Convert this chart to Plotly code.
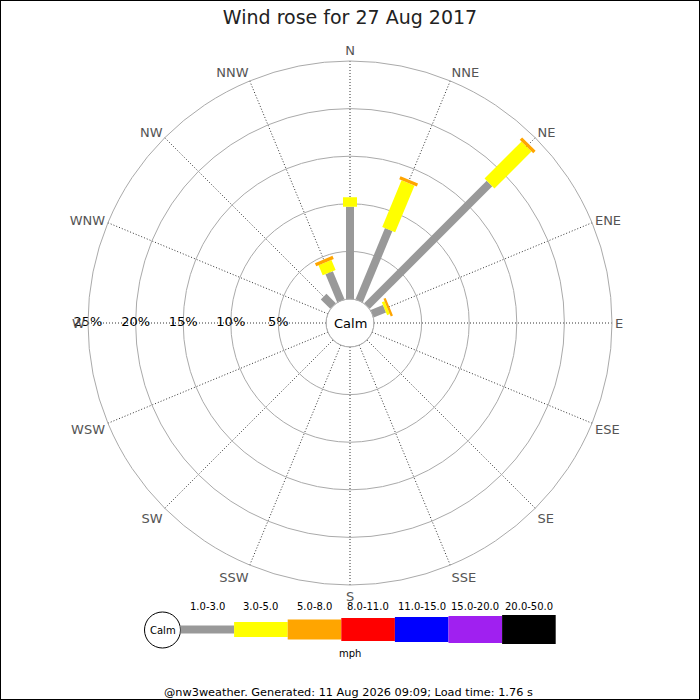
import plotly.graph_objects as go

# ---- data ----
directions = ["N", "NNE", "NE", "ENE", "E", "ESE", "SE", "SSE",
              "S", "SSW", "SW", "WSW", "W", "WNW", "NW", "NNW"]
dir_angles = [i * 22.5 for i in range(16)]
# percentage of time per direction, by speed band (mph)
pct_1_3 = [9.7, 8.1, 18.2, 1.4, 0, 0, 0, 0, 0, 0, 0, 0, 0, 0, 1.4, 3.2]
pct_3_5 = [1.0, 5.3, 5.5, 0.3, 0, 0, 0, 0, 0, 0, 0, 0, 0, 0, 0, 1.15]
pct_5_8 = [0, 0.35, 0.35, 0.25, 0, 0, 0, 0, 0, 0, 0, 0, 0, 0, 0, 0.35]
speed_bins = ["1.0-3.0", "3.0-5.0", "5.0-8.0", "8.0-11.0", "11.0-15.0", "15.0-20.0", "20.0-50.0"]
ring_ticks = [5, 10, 15, 20, 25]
ring_labels = ["5%", "10%", "15%", "20%", "25%"]

# ---- styles ----
bin_colors = ["#999999", "#ffff00", "#ffa500", "#ff0000", "#0000ff", "#a020f0", "#000000"]
rose_widths = [8, 14, 19]
legend_heights = [8, 15, 20, 23, 25, 27, 29]

W = H = 700
cx, cy, R, hole_px = 350, 323, 262, 24
rmax = 25

fig = go.Figure()

series = [pct_1_3, pct_3_5, pct_5_8]
base = [0.0] * 16
for k, vals in enumerate(series):
    for i, v in enumerate(vals):
        if v > 0:
            fig.add_trace(go.Scatterpolar(
                r=[base[i], base[i] + v], theta=[dir_angles[i], dir_angles[i]],
                mode="lines", line=dict(color=bin_colors[k], width=rose_widths[k]),
                showlegend=False, hoverinfo="skip"))
    base = [b + v for b, v in zip(base, vals)]

# ring labels along W spoke
fig.add_trace(go.Scatterpolar(
    r=ring_ticks, theta=[270] * len(ring_ticks), mode="text", text=ring_labels,
    textfont=dict(family="DejaVu Sans", size=13, color="#000"),
    showlegend=False, hoverinfo="skip", cliponaxis=False))

shapes = []
annotations = []

def px(x):
    return x / W

def py(y):
    return 1 - y / H

def note(x, y, text, size, color="#000"):
    annotations.append(dict(x=px(x), y=py(y), xref="paper", yref="paper", text=text,
                            showarrow=False, xanchor="center", yanchor="middle",
                            font=dict(family="DejaVu Sans", size=size, color=color)))

# calm circle
shapes.append(dict(type="circle", xref="paper", yref="paper",
                   x0=px(cx - hole_px), x1=px(cx + hole_px), y0=py(cy + hole_px), y1=py(cy - hole_px),
                   line=dict(color="#aaaaaa", width=1), fillcolor="white", layer="below"))
note(cx, cy, "Calm", 13)

# legend
lx0, seg_w, ly = 180.5, 53.6, 629.5
shapes.append(dict(type="circle", xref="paper", yref="paper",
                   x0=px(144.5), x1=px(180.5), y0=py(648), y1=py(612),
                   line=dict(color="#000", width=1), fillcolor="white"))
note(162.5, 630, "Calm", 10)
for i, (lab, col, h) in enumerate(zip(speed_bins, bin_colors, legend_heights)):
    x0 = lx0 + i * seg_w
    shapes.append(dict(type="rect", xref="paper", yref="paper",
                       x0=px(x0), x1=px(x0 + seg_w), y0=py(ly + h / 2), y1=py(ly - h / 2),
                       line=dict(width=0), fillcolor=col))
    note(x0 + seg_w / 2, 606.5, lab, 10)
note(350.5, 653.5, "mph", 10)
note(348, 692.5, "@nw3weather. Generated: 11 Aug 2026 09:09; Load time: 1.76 s", 11.3)
# border
shapes.append(dict(type="rect", xref="paper", yref="paper", x0=0, x1=1, y0=0, y1=1,
                   line=dict(color="#000", width=2)))

fig.update_layout(
    width=W, height=H, margin=dict(l=0, r=0, t=0, b=0),
    paper_bgcolor="white", plot_bgcolor="white",
    title=dict(text="Wind rose for 27 Aug 2017", x=0.5, xanchor="center", y=py(17), yanchor="middle",
               font=dict(family="DejaVu Sans", size=19, color="#222")),
    polar=dict(
        domain=dict(x=[px(cx - R), px(cx + R)], y=[py(cy + R), py(cy - R)]),
        hole=hole_px / R,
        bgcolor="white",
        radialaxis=dict(range=[0, rmax], tickvals=[5, 10, 15, 20], showticklabels=False, ticks="",
                        showline=False, gridcolor="#aaaaaa", gridwidth=1),
        angularaxis=dict(rotation=90, direction="clockwise", tickmode="array", tickvals=dir_angles,
                         ticktext=directions, showticklabels=True, ticks="",
                         tickfont=dict(family="DejaVu Sans", size=13, color="#555"),
                         showline=True, linecolor="#aaaaaa", linewidth=1,
                         gridcolor="#333333", griddash="1px,2px", gridwidth=1),
    ),
    shapes=shapes, annotations=annotations,
)

fig.write_html("out.html", config={"displayModeBar": False},
               post_script="document.body.style.margin='0';")
